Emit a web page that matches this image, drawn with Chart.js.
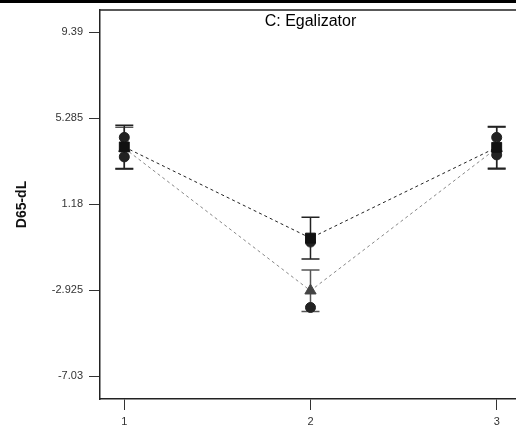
<!DOCTYPE html>
<html><head><meta charset="utf-8">
<script src="https://cdn.jsdelivr.net/npm/chart.js@4.4.0/dist/chart.umd.min.js"></script>
<style>html,body{margin:0;padding:0;overflow:hidden;background:#fff}#wrap{width:516px;height:433px;overflow:hidden;position:relative}canvas{display:block}</style>
</head><body><div id="wrap"><canvas id="c" width="524" height="433" style="width:524px;height:433px"></canvas></div>
<script>
const xCategories = [1, 2, 3];
const squareMeans = [3.92, -0.43, 3.90];
const squareLSD = [1.03, 1.0, 1.0];
const triangleMeans = [3.86, -2.94, 3.86];
const triangleLSD = [1.0, 0.99, 1.0];
const designX = [1, 1, 2, 2, 3, 3];
const designY = [4.375, 3.445, -0.62, -3.74, 4.375, 3.54];
const yTicks = [-7.03, -2.925, 1.18, 5.285, 9.39];
const yTickLabels = ['-7.03', '-2.925', '1.18', '5.285', '9.39'];
const xTickLabels = ['1', '2', '3'];
const chartTitle = 'C: Egalizator';
const yTitle = 'D65-dL';

const pts = (xs, ys) => xs.map((x, i) => ({x: x, y: ys[i]}));
const zeroPad = s => { s.paddingLeft = 0; s.paddingRight = 0; s.paddingTop = 0; s.paddingBottom = 0; };

const decor = {
  id: 'decor',
  beforeDraw(chart) {
    const ctx = chart.ctx;
    ctx.save();
    ctx.fillStyle = '#fff';
    ctx.fillRect(0, 0, chart.width, chart.height);
    ctx.restore();
  },
  beforeDatasetsDraw(chart) {
    const ctx = chart.ctx, xs = chart.scales.x, ys = chart.scales.y;
    const bars = [
      {means: triangleMeans, lsd: triangleLSD, color: '#555'},
      {means: squareMeans, lsd: squareLSD, color: '#222'}
    ];
    ctx.save();
    ctx.lineWidth = 1.5;
    bars.forEach(b => {
      ctx.strokeStyle = b.color;
      xCategories.forEach((c, i) => {
        const px = xs.getPixelForValue(c);
        const top = ys.getPixelForValue(b.means[i] + b.lsd[i]);
        const bot = ys.getPixelForValue(b.means[i] - b.lsd[i]);
        ctx.beginPath();
        ctx.moveTo(px, top); ctx.lineTo(px, bot);
        ctx.moveTo(px - 9, top); ctx.lineTo(px + 9, top);
        ctx.moveTo(px - 9, bot); ctx.lineTo(px + 9, bot);
        ctx.stroke();
      });
    });
    ctx.restore();
  },
  afterDraw(chart) {
    const ctx = chart.ctx, a = chart.chartArea;
    ctx.save();
    ctx.fillStyle = '#000';
    ctx.fillRect(0, 0, chart.width, 3);
    ctx.strokeStyle = '#222';
    ctx.lineWidth = 1.5;
    ctx.beginPath();
    ctx.moveTo(a.left, a.top); ctx.lineTo(chart.width, a.top);
    ctx.moveTo(a.right, a.bottom); ctx.lineTo(chart.width, a.bottom);
    ctx.stroke();
    ctx.font = '16px Arial, "Liberation Sans", sans-serif';
    ctx.fillStyle = '#000';
    ctx.textAlign = 'center';
    ctx.textBaseline = 'alphabetic';
    ctx.fillText(chartTitle, chart.scales.x.getPixelForValue(2), 26);
    ctx.restore();
  }
};

new Chart(document.getElementById('c'), {
  type: 'line',
  data: {
    datasets: [
      {
        data: pts(xCategories, squareMeans),
        borderColor: '#222', borderWidth: 1, borderDash: [3, 3],
        pointStyle: 'rect', pointRadius: 7, pointBackgroundColor: '#111',
        pointBorderColor: '#111', pointBorderWidth: 1, fill: false, tension: 0
      },
      {
        data: pts(xCategories, triangleMeans),
        borderColor: '#888', borderWidth: 1, borderDash: [3, 3],
        pointStyle: 'triangle', pointRadius: 6.5, pointBackgroundColor: '#444',
        pointBorderColor: '#444', pointBorderWidth: 1, fill: false, tension: 0
      },
      {
        data: pts(designX, designY),
        showLine: false,
        pointStyle: 'circle', pointRadius: 5, pointBackgroundColor: '#222',
        pointBorderColor: '#222', pointBorderWidth: 1
      }
    ]
  },
  options: {
    responsive: false, maintainAspectRatio: false, animation: false, devicePixelRatio: 1,
    layout: {padding: {top: 10, left: 0, right: 0, bottom: 0}},
    plugins: {legend: {display: false}, tooltip: {enabled: false}},
    scales: {
      x: {
        type: 'linear', min: 0.8695, max: 3.1037,
        afterBuildTicks: s => { s.ticks = xCategories.map(v => ({value: v})); },
        afterFit: s => { s.height = 34; zeroPad(s); },
        ticks: {
          callback: (v) => xTickLabels[xCategories.indexOf(v)],
          color: '#333', font: {family: 'Arial, "Liberation Sans", sans-serif', size: 11}, padding: 5,
          maxRotation: 0, autoSkip: false
        },
        grid: {drawOnChartArea: false, drawTicks: true, tickLength: 11, color: '#333', lineWidth: 1},
        border: {display: true, color: '#222', width: 1.5}
      },
      y: {
        type: 'linear', min: -8.107, max: 10.453,
        afterBuildTicks: s => { s.ticks = yTicks.map(v => ({value: v})); },
        afterFit: s => { s.width = 100; zeroPad(s); },
        ticks: {
          callback: (v) => yTickLabels[yTicks.indexOf(v)],
          color: '#333', font: {family: 'Arial, "Liberation Sans", sans-serif', size: 11}, padding: 6,
          autoSkip: false
        },
        grid: {drawOnChartArea: false, drawTicks: true, tickLength: 11, color: '#333', lineWidth: 1},
        border: {display: true, color: '#222', width: 1.5},
        title: {
          display: true, text: yTitle, color: '#111',
          font: {family: 'Arial, "Liberation Sans", sans-serif', size: 14, weight: 'bold'},
          padding: {top: 14, bottom: 0}
        }
      }
    }
  },
  plugins: [decor]
});
</script>
</body></html>
